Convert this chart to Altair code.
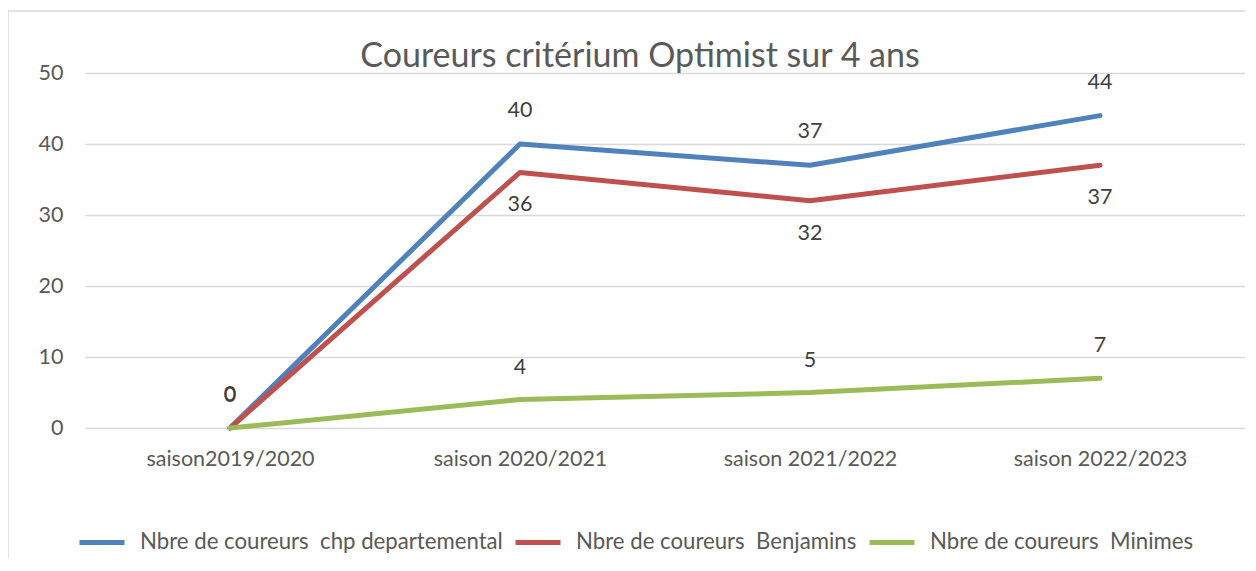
import altair as alt
import pandas as pd

categories = ["saison2019/2020", "saison 2020/2021", "saison 2021/2022", "saison 2022/2023"]
series_names = [
    "Nbre de coureurs \u00a0chp departemental",
    "Nbre de coureurs \u00a0Benjamins",
    "Nbre de coureurs \u00a0Minimes",
]
departemental = [0, 40, 37, 44]
benjamins = [0, 36, 32, 37]
minimes = [0, 4, 5, 7]
colors = ["#4f81bd", "#c0504d", "#9bbb59"]
y_ticks = [0, 10, 20, 30, 40, 50]
title_text = "Coureurs critérium Optimist sur 4 ans"

rows = []
for name, vals in zip(series_names, [departemental, benjamins, minimes]):
    for c, v in zip(categories, vals):
        rows.append({"saison": c, "serie": name, "valeur": v})
df = pd.DataFrame(rows)

FONT = "Lato"
FS = 21.5
W, H = 1160, 355

x = alt.X(
    "saison:N",
    sort=categories,
    scale=alt.Scale(type="point", padding=0.5),
    axis=alt.Axis(title=None, labelAngle=0, ticks=False, domain=False, grid=False,
                  labelFontSize=FS, labelColor="#595959", labelPadding=20, labelFont=FONT),
)
y = alt.Y(
    "valeur:Q",
    scale=alt.Scale(domain=[0, 50], nice=False),
    axis=alt.Axis(title=None, values=y_ticks, ticks=False, domain=False,
                  gridColor="#d9d9d9", gridWidth=1.5, labelFontSize=FS,
                  labelColor="#595959", labelPadding=22, labelFont=FONT),
)
color = alt.Color(
    "serie:N",
    sort=series_names,
    scale=alt.Scale(domain=series_names, range=colors),
    legend=alt.Legend(title=None, orient="none", direction="horizontal",
                      legendX=-8, legendY=444, symbolType="stroke", symbolSize=2025,
                      symbolStrokeWidth=5, labelFontSize=22.2, labelColor="#595959",
                      labelFont=FONT, labelOffset=13, columnPadding=2,
                      labelLimit=600),
)

frame = alt.Chart(alt.Data(values=[{}])).mark_rect(
    filled=False, stroke="#d9d9d9", strokeWidth=1.5
).encode(x=alt.value(-77), x2=alt.value(1200), y=alt.value(-62), y2=alt.value(520))

title = alt.Chart(alt.Data(values=[{"t": title_text}])).mark_text(
    fontSize=34, color="#595959", font=FONT, align="center", baseline="middle"
).encode(text="t:N", x=alt.value(555), y=alt.value(-16))

lines = alt.Chart(df).mark_line(strokeWidth=5, strokeCap="round", strokeJoin="round").encode(
    x=x, y=y, color=color
)

label_style = dict(fontSize=FS, color="#404040", font=FONT)
lab_dep = alt.Chart(df).transform_filter(alt.datum.serie == series_names[0]).mark_text(
    dy=-33, **label_style).encode(x=x, y=y, text="valeur:Q")
lab_benj = alt.Chart(df).transform_filter(
    (alt.datum.serie == series_names[1]) & (alt.datum.valeur > 0)
).mark_text(dy=33, **label_style).encode(x=x, y=y, text="valeur:Q")
lab_min = alt.Chart(df).transform_filter(alt.datum.serie == series_names[2]).mark_text(
    dy=-32, **label_style).encode(x=x, y=y, text="valeur:Q")

chart = alt.layer(frame, title, lines, lab_dep, lab_benj, lab_min).properties(
    width=W,
    height=H,
    autosize=alt.AutoSizeParams(type="none"),
    padding={"left": 77, "top": 65, "right": 0, "bottom": 130},
).configure_view(stroke=None)

chart.save("out.html", embed_options={"renderer": "svg", "actions": False})
